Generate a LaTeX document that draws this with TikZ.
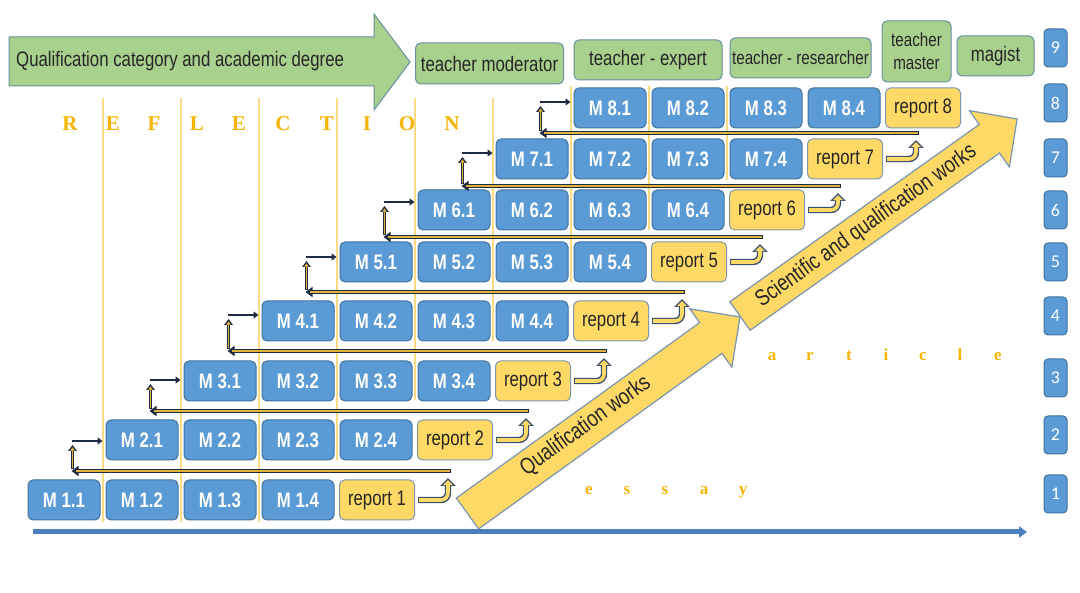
\documentclass[tikz,border=0pt]{standalone}
\usepackage{fontspec}
\setmainfont{Liberation Sans}[FakeStretch=0.8]
\newfontfamily\reflfont{Liberation Serif}
\newfontfamily\numfont{Carlito}
\usetikzlibrary{arrows.meta,calc}
\definecolor{mblue}{HTML}{5B9BD5}
\definecolor{mbord}{HTML}{41719C}
\definecolor{ryel}{HTML}{FFD966}
\definecolor{rbord}{HTML}{7F96AE}
\definecolor{hgreen}{HTML}{A9D18E}
\definecolor{hbord}{HTML}{6A8FA0}
\definecolor{navy}{HTML}{1F2A44}
\definecolor{goldin}{HTML}{E0B43A}
\definecolor{bendb}{HTML}{3C4F70}
\definecolor{gline}{HTML}{F8DC84}
\definecolor{letter}{HTML}{F4B400}
\definecolor{axisc}{HTML}{4A80C0}
\definecolor{abord}{HTML}{7A95B0}
\definecolor{txt}{HTML}{262626}
\tikzset{
  mbox/.style={rectangle, rounded corners=5pt, draw=mbord, line width=1pt, fill=mblue, text=white,
    font=\fontsize{21}{23}\selectfont\bfseries, minimum width=72pt, minimum height=40pt, inner sep=0pt},
  rbox/.style={rectangle, rounded corners=5pt, draw=rbord, line width=1pt, fill=ryel, text=txt,
    font=\fontsize{21}{23}\selectfont, minimum width=75pt, minimum height=40pt, inner sep=0pt},
  hbox/.style={rectangle, rounded corners=5pt, draw=hbord, line width=1pt, fill=hgreen, text=txt,
    font=\fontsize{21}{23}\selectfont, inner sep=0pt, align=center},
  nbox/.style={rectangle, rounded corners=4pt, draw=mbord, line width=1pt, fill=mblue, text=white,
    font=\numfont\fontsize{18}{20}\selectfont, minimum width=23pt, minimum height=38pt, inner sep=0pt},
  refl/.style={text=letter, font=\reflfont\bfseries\fontsize{21}{23}\selectfont, inner sep=0pt, anchor=base},
  lowl/.style={text=letter, font=\reflfont\bfseries\fontsize{17}{19}\selectfont, inner sep=0pt, anchor=base},
  bigarrow/.style={fill=ryel, draw=abord, line width=1.2pt, line join=miter},
  arrowtext/.style={transform shape, text=txt, font=\fontsize{23}{25}\selectfont, inner sep=0pt},
  bendout/.style={draw=bendb, line width=6.4pt, rounded corners=7pt, shorten <=3pt, -{Triangle[length=8pt,width=15pt]}},
  bendin/.style={draw=ryel, line width=3.6pt, rounded corners=7pt, shorten <=4.2pt, shorten >=2pt, -{Triangle[length=5.2pt,width=10pt]}},
  retout/.style={draw=navy, line width=4.4pt, -{Stealth[length=7pt,width=10pt,inset=0pt]}},
  retin/.style={draw=goldin, line width=1.6pt, shorten <=1.2pt, shorten >=4pt},
  upout/.style={draw=navy, line width=3.6pt, -{Triangle[length=6pt,width=8.5pt]}},
  upin/.style={draw=goldin, line width=1.4pt, shorten <=1pt, shorten >=2.4pt, -{Triangle[length=3.2pt,width=4.4pt]}},
  inarrow/.style={draw=navy, line width=2.8pt, shorten >=3pt, -{Stealth[length=5pt,width=7pt,inset=0pt]}},
  goldrule/.style={draw=gline, line width=1.2pt}
}
\begin{document}
\begin{tikzpicture}[x=1pt,y=-1pt]
\useasboundingbox (0,0) rectangle (1080,593);
\fill[white] (0,0) rectangle (1080,593);

% gold vertical rules
\foreach \cc/\ya/\yb in {1/98/522,2/98/522,3/98/522,4/98/460,5/98/400,6/98/341,7/86/282,8/86/230,9/86/180}
  \draw[goldrule] ({25+78*\cc},\ya) -- ({25+78*\cc},\yb);

% letters
\foreach \ch/\x [count=\i] in {R/70,E/113,F/154,L/197,E/239,C/283,T/327,I/367,O/407,N/452}
  \node[refl] (rf\i) at (\x,131) {\ch};
\foreach \ch/\x [count=\i] in {a/772,r/810,t/849,i/886,c/923,l/960,e/998}
  \node[lowl] (ar\i) at (\x,361) {\ch};
\foreach \ch/\x [count=\i] in {e/589,s/627,s/665,a/704,y/743}
  \node[lowl] (es\i) at (\x,495) {\ch};

% header
\filldraw[fill=hgreen, draw=hbord, line width=1pt] (9,37) -- (374,37) -- (374,14) -- (410,62) -- (374,110) -- (374,86) -- (9,86) -- cycle;
\node[anchor=west, text=txt, font=\fontsize{21}{23}\selectfont, inner sep=0pt] (qcat) at (16,61) {Qualification category and academic degree};
\node[hbox, minimum width=148pt, minimum height=41pt] (tmod) at (489.5,63.5) {teacher moderator};
\node[hbox, minimum width=148pt, minimum height=40pt] (texp) at (648,60) {teacher - expert};
\node[hbox, minimum width=141pt, minimum height=40pt, font=\fontsize{19}{21}\selectfont] (tres) at (800.5,58) {teacher - researcher};
\node[hbox, minimum width=69pt, minimum height=61pt, font=\fontsize{19}{23}\selectfont] (tmas) at (916.5,51.5) {teacher\\master};
\node[hbox, minimum width=77pt, minimum height=40pt] (mag) at (995.5,56) {magist};

% big yellow arrows
\begin{scope}[shift={(467.5,513.5)}, rotate=35.8]
  \filldraw[bigarrow] (0,-19) -- (300,-19) -- (300,-36) -- (336,0) -- (300,36) -- (300,19) -- (0,19) -- cycle;
  \node[arrowtext] (qw) at (147,-2) {Qualification works};
\end{scope}
\begin{scope}[shift={(740,316)}, rotate=35.4]
  \filldraw[bigarrow] (0,-17.5) -- (306,-17.5) -- (306,-34.5) -- (340,0) -- (306,34.5) -- (306,17.5) -- (0,17.5) -- cycle;
  \node[arrowtext] (sq) at (155,0) {Scientific and qualification works};
\end{scope}

% module boxes and reports
\foreach \k/\yc in {1/500,2/440,3/381,4/321,5/262,6/210,7/159,8/108}{
  \foreach \j in {1,2,3,4}{
    \pgfmathtruncatemacro\xc{64+78*(\k+\j-2)}
    \node[mbox] (m\k\j) at (\xc,\yc) {M \k.\j};
  }
  \pgfmathtruncatemacro\xr{64+78*(\k+3)+1}
  \node[rbox] (r\k) at (\xr,\yc) {report \k};
}

% level numbers
\foreach \n/\y in {9/48,8/103,7/158,6/210,5/262,4/316,3/378,2/435,1/494}
  \node[nbox] (n\n) at (1055.5,\y) {\n};

% connectors
\foreach \k/\kn/\yr/\yh in {1/2/471/441,2/3/411/380,3/4/351/315,4/5/292/257,5/6/237/202,6/7/186/153,7/8/133/102}{
  \coordinate (ya\k) at (0,\yr);
  \coordinate (yb\k) at (0,\yh);
  \coordinate (bc\k) at ($(r\k.east)+(33,0)$);
  \coordinate (bt\k) at ($(bc\k |- ya\k)+(0,7)$);
  \coordinate (rr\k) at ($(bc\k |- ya\k)+(3,0)$);
  \coordinate (rl\k) at ($(m\kn1.west |- ya\k)+(-34,0)$);
  \coordinate (hs\k) at (rl\k |- yb\k);
  \coordinate (vb\k) at ($(rl\k)+(1,-2)$);
  \coordinate (vt\k) at ($(hs\k)+(1,4)$);
  \draw[bendout] (r\k.east) -- (bc\k) -- (bt\k);
  \draw[bendin] (r\k.east) -- (bc\k) -- (bt\k);
  \draw[retout] (rr\k) -- (rl\k);
  \draw[retin] (rr\k) -- (rl\k);
  \draw[upout] (vb\k) -- (vt\k);
  \draw[upin] (vb\k) -- (vt\k);
  \draw[inarrow] (hs\k) -- (hs\k -| m\kn1.west);
}

% bottom axis
\coordinate (ax0) at (33,532);
\coordinate (ax1) at (1027,532);
\draw[draw=axisc, line width=5pt, -{Stealth[length=8pt,width=11pt,inset=0pt]}] (ax0) -- (ax1);
\end{tikzpicture}
\end{document}
